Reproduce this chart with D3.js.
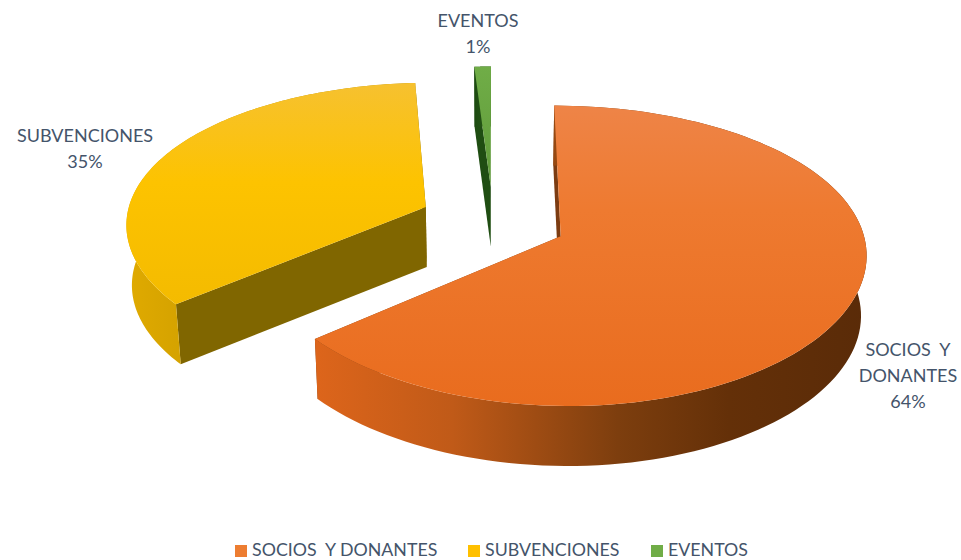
<!DOCTYPE html>
<html>
<head>
<meta charset="utf-8">
<script src="https://cdn.jsdelivr.net/npm/d3@7"></script>
<style>
    html, body { margin: 0; padding: 0; background: #fff; }
    svg { display: block; }
    text { font-family: Lato, "Open Sans", sans-serif; fill: #44546a; white-space: pre; }
</style>
</head>
<body>
<div id="chart"></div>
<script>
// Exploded 3D pie
const categories = ["SOCIOS  Y DONANTES", "SUBVENCIONES", "EVENTOS"];
const values = [64, 35, 1];
const labelLines = [["SOCIOS  Y", "DONANTES", "64%"], ["SUBVENCIONES", "35%"], ["EVENTOS", "1%"]];

const width = 961, height = 560;

// world -> screen settings for the tilted pie
const cx = 493, cy = 221;
const radius = 300, explode = 74, depth = 60;
const tilt = 0.479, perspectiveY = 0.000427, perspectiveX = 0.00035, wallNarrow = 0.00025;

const svg = d3.select("#chart").append("svg")
    .attr("width", width)
    .attr("height", height);

const defs = svg.append("defs");

function addGradient(id, x2, y2, stops) {
    const g = defs.append("linearGradient")
        .attr("id", id)
        .attr("x1", 0).attr("y1", 0)
        .attr("x2", x2).attr("y2", y2);
    stops.forEach(s => g.append("stop").attr("offset", s[0]).attr("stop-color", s[1]));
}

addGradient("top0", 0, 1, [[0, "#ee8447"], [0.35, "#ee7a30"], [1, "#e96c1e"]]);
addGradient("top1", 0, 1, [[0, "#f6c130"], [0.45, "#fdc300"], [1, "#f4bb00"]]);
addGradient("top2", 0, 1, [[0, "#70ad47"], [1, "#5f9a3a"]]);
addGradient("wall0", 1, 0, [[0, "#dd651b"], [0.25, "#c05a18"], [0.55, "#7d3e0e"], [0.75, "#643008"], [1, "#5a2b08"]]);
addGradient("wall1", 1, 0, [[0, "#e0aa00"], [0.4, "#c89a00"], [1, "#b58c00"]]);
addGradient("wall2", 1, 0, [[0, "#1c4a10"], [1, "#2a5c18"]]);

const radialColors = ["#7c3c12", "#806600", "#1f4d12"];

// top face y is "towards the viewer", z is how far down the wall
function project(x, y, z) {
    const fx = 1 / (1 - perspectiveX * y);
    const fy = 1 / (1 - perspectiveY * y);
    return [cx + x * fx * (1 - z * wallNarrow), cy + tilt * y * fy + z];
}

const line = d3.line();

const pie = d3.pie().sort(null).value(d => d);
const arcs = pie(values);

function drawSlice(arc, i) {
    const mid = (arc.startAngle + arc.endAngle) / 2;
    const ox = explode * Math.sin(mid);
    const oy = -explode * Math.cos(mid);

    const step = (arc.endAngle - arc.startAngle) / 120;
    const angles = d3.range(0, 121).map(k => arc.startAngle + k * step);
    const rim = z => angles.map(a => project(ox + radius * Math.sin(a), oy - radius * Math.cos(a), z));
    const centre = z => project(ox, oy, z);

    const g = svg.append("g").attr("class", "slice");

    const topRim = rim(0), bottomRim = rim(depth);

    // side cuts
    g.append("path")
        .attr("d", line([centre(0), topRim[0], bottomRim[0], centre(depth)]) + "Z")
        .attr("fill", radialColors[i]);
    g.append("path")
        .attr("d", line([centre(0), topRim[120], bottomRim[120], centre(depth)]) + "Z")
        .attr("fill", radialColors[i]);

    // curved outer wall
    g.append("path")
        .attr("d", line(topRim.concat(bottomRim.slice().reverse())) + "Z")
        .attr("fill", `url(#wall${i})`);

    // top face
    g.append("path")
        .attr("d", line([centre(0)].concat(topRim)) + "Z")
        .attr("fill", `url(#top${i})`);
}

// back slices first so that the big one sits in front
drawSlice(arcs[1], 1);
drawSlice(arcs[2], 2);
drawSlice(arcs[0], 0);

// data labels
const labelPos = [[908, 356], [85, 142], [478, 27]];
labelLines.forEach((lines, i) => {
    svg.append("text")
        .attr("class", "label")
        .attr("text-anchor", "middle")
        .attr("font-size", 18)
        .selectAll("tspan")
        .data(lines)
        .enter().append("tspan")
        .attr("x", labelPos[i][0])
        .attr("y", (d, k) => labelPos[i][1] + k * 26)
        .text(d => d);
});

// legend
const legendX = [235, 468, 651];
const legendColors = ["#ed7d31", "#ffc000", "#70ad47"];
const legend = svg.append("g").attr("class", "legend");

legend.selectAll("rect")
    .data(categories)
    .enter().append("rect")
    .attr("x", (d, i) => legendX[i])
    .attr("y", 545)
    .attr("width", 12)
    .attr("height", 12)
    .attr("fill", (d, i) => legendColors[i]);

legend.selectAll("text")
    .data(categories)
    .enter().append("text")
    .attr("x", (d, i) => legendX[i] + 17)
    .attr("y", 556)
    .attr("font-size", 17.8)
    .text(d => d);
</script>
</body>
</html>
